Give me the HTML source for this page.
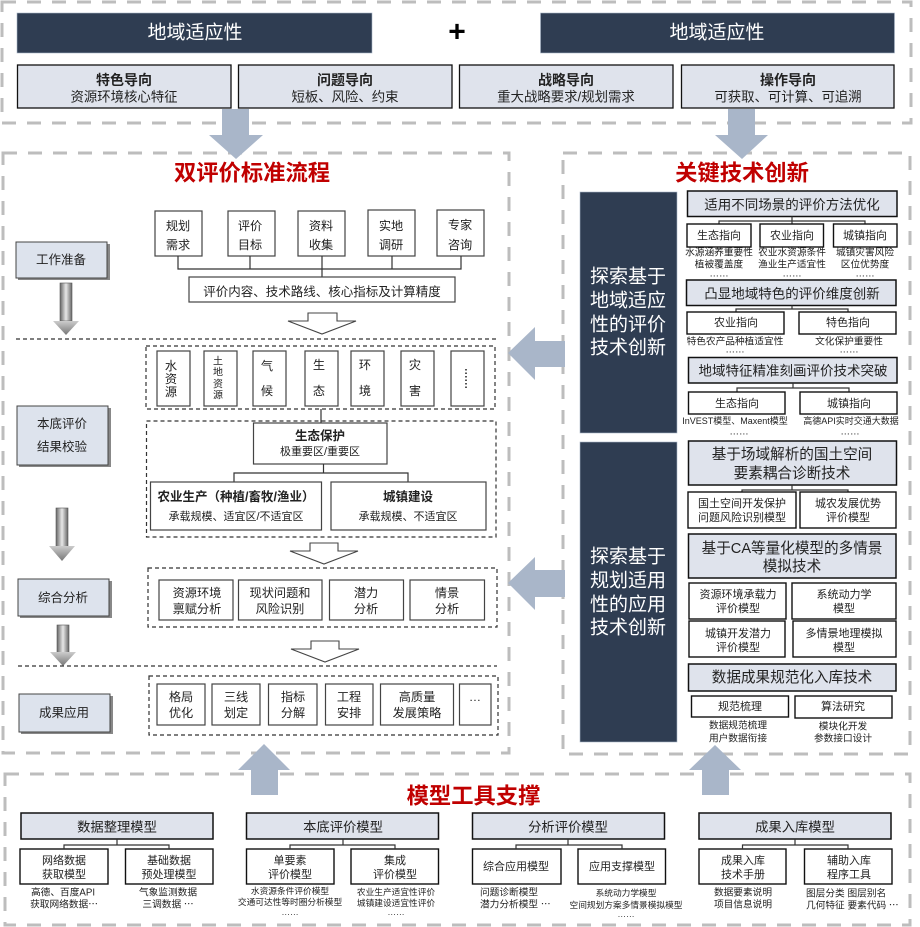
<!DOCTYPE html>
<html lang="zh"><head><meta charset="utf-8"><title>双评价</title>
<style>
html,body{margin:0;padding:0;background:#fff}
svg{display:block}
text{font-family:"Liberation Sans","Noto Sans CJK SC",sans-serif;text-anchor:middle;dominant-baseline:central;fill:#222}
.d{fill:none;stroke:#bdbdbd;stroke-width:3;stroke-dasharray:14 11}
.k{fill:none;stroke:#333;stroke-width:1.2;stroke-dasharray:4 3}
.b{fill:#fff;stroke:#111;stroke-width:1.4}
.g{fill:#fff;stroke:#444;stroke-width:1.2}
.h{fill:#dfe3ec;stroke:#111;stroke-width:1.5}
.e{fill:#dfe3ec;stroke:#111;stroke-width:1.3}
.s{fill:#dde3ed;stroke:#444;stroke-width:1}
.dk{fill:#2f3d52;stroke:#a9b6c9;stroke-width:.6}
.l{fill:none;stroke:#333;stroke-width:1.2}
.a{fill:#a9b6c9}
.o{fill:#fff;stroke:#444;stroke-width:1.1}
.t{font-size:22.300px;font-weight:700;fill:#c00000}
.m{font-size:13.400px}.n{font-size:12.200px}.p{font-size:11px}.q{font-size:9.700px}.r{font-size:8.700px}
.hh{font-size:14.600px}.bh{font-size:13.300px}.dh{font-size:13.500px}
.bd{font-size:14px;font-weight:700}
.lft{text-anchor:start}
.wh{fill:#fff}
</style></head><body>
<svg width="920" height="927" viewBox="0 0 920 927" xmlns="http://www.w3.org/2000/svg">
<defs><linearGradient id="gr" x1="0" y1="0" x2="1" y2="0"><stop offset="0" stop-color="#666"/><stop offset=".5" stop-color="#e8e8e8"/><stop offset="1" stop-color="#666"/></linearGradient>
<linearGradient id="gv" x1="0" y1="0" x2="0" y2="1"><stop offset="0" stop-color="#ccc"/><stop offset="1" stop-color="#777"/></linearGradient></defs>

<!-- dashed panels -->
<rect class="d" x="2" y="2" width="909" height="121"/>
<rect class="d" x="3" y="153" width="506" height="600"/>
<rect class="d" x="563" y="153" width="347" height="601"/>
<rect class="d" x="5" y="774" width="905" height="151"/>

<!-- top -->
<rect class="dk" x="17" y="13" width="355" height="40"/>
<rect class="dk" x="540.500" y="13" width="354" height="40"/>
<text class="wh" x="195" y="33" font-size="19">地域适应性</text>
<text class="wh" x="717" y="33" font-size="19">地域适应性</text>
<text x="457" y="32" font-size="30" font-weight="700" style="fill:#000">+</text>
<rect class="e" x="17.500" y="65" width="213.500" height="43"/>
<rect class="e" x="238.500" y="65" width="213.500" height="43"/>
<rect class="e" x="459.500" y="65" width="213.500" height="43"/>
<rect class="e" x="681.500" y="65" width="212.500" height="43"/>
<text x="124" y="80" class="bd">特色导向</text><text x="124" y="97" class="m">资源环境核心特征</text>
<text x="345" y="80" class="bd">问题导向</text><text x="345" y="97" class="m">短板、风险、约束</text>
<text x="566" y="80" class="bd">战略导向</text><text x="566" y="97" class="m">重大战略要求/规划需求</text>
<text x="788" y="80" class="bd">操作导向</text><text x="788" y="97" class="m">可获取、可计算、可追溯</text>

<!-- blue arrows -->
<polygon class="a" points="222,109 249,109 249,135 263,135 236,159 209,135 222,135"/>
<polygon class="a" points="728,109 755,109 755,135 768,135 742,159 715,135 728,135"/>
<polygon class="a" points="508,353 535,327 535,341 565,341 565,367 535,367 535,380"/>
<polygon class="a" points="508,583 535,557 535,570 565,570 565,597 535,597 535,610"/>
<polygon class="a" points="264,744 290,770 278,770 278,795 251,795 251,770 238,770"/>
<polygon class="a" points="715,745 741,770 729,770 729,795 702,795 702,770 689,770"/>

<!-- left panel -->
<text class="t" x="252" y="173">双评价标准流程</text>
<rect class="g" x="155" y="211" width="47" height="45"/>
<rect class="g" x="228" y="211" width="47" height="45"/>
<rect class="g" x="298" y="211" width="47" height="45"/>
<rect class="g" x="368" y="210" width="47" height="46"/>
<rect class="g" x="437" y="210" width="47" height="46"/>
<text class="n" x="178" y="226">规划</text><text class="n" x="178" y="245">需求</text>
<text class="n" x="250" y="226">评价</text><text class="n" x="250" y="245">目标</text>
<text class="n" x="321" y="226">资料</text><text class="n" x="321" y="245">收集</text>
<text class="n" x="391" y="226">实地</text><text class="n" x="391" y="245">调研</text>
<text class="n" x="460" y="225">专家</text><text class="n" x="460" y="245">咨询</text>
<path class="l" d="M178 256V269H461V256M250 256V269M322 256V277M392 256V269"/>
<rect class="g" x="189" y="277" width="266" height="25"/>
<text x="322" y="292" font-size="12.500">评价内容、技术路线、核心指标及计算精度</text>
<polygon class="o" points="308,313 337,313 337,321 356,321 322,334 288,321 308,321"/>

<rect x="18" y="244" width="92" height="36" fill="#888"/><rect class="s" x="16" y="242" width="91" height="36"/>
<text x="61" y="260" font-size="12.500">工作准备</text>
<rect x="19" y="408" width="92" height="59" fill="#888"/><rect class="s" x="17" y="406" width="91" height="59"/>
<text x="62" y="424" font-size="12.500">本底评价</text><text x="62" y="447" font-size="12.500">结果校验</text>
<rect x="20" y="581" width="92" height="37" fill="#888"/><rect class="s" x="18" y="579" width="91" height="37"/>
<text x="63" y="598" font-size="12.500">综合分析</text>
<rect x="21" y="696" width="92" height="38" fill="#888"/><rect class="s" x="19" y="694" width="91" height="38"/>
<text x="64" y="713" font-size="12.500">成果应用</text>

<rect x="60" y="283" width="12" height="38" fill="url(#gr)" stroke="#555" stroke-width=".6"/><polygon points="53,321 79,321 66,335" fill="url(#gv)"/>
<rect x="56" y="508" width="12" height="42" fill="url(#gr)" stroke="#555" stroke-width=".6"/><polygon points="49,546 75,546 62,561" fill="url(#gv)"/>
<rect x="57" y="625" width="12" height="33" fill="url(#gr)" stroke="#555" stroke-width=".6"/><polygon points="50,652 76,652 63,666" fill="url(#gv)"/>

<path class="k" d="M16 339H496"/>
<path class="k" d="M18 666H497"/>

<rect class="k" x="146" y="346" width="349" height="63"/>
<rect class="g" x="157" y="351" width="33" height="55"/>
<rect class="g" x="204" y="351" width="33" height="55"/>
<rect class="g" x="253" y="351" width="33" height="55"/>
<rect class="g" x="305" y="351" width="33" height="55"/>
<rect class="g" x="351" y="351" width="33" height="55"/>
<rect class="g" x="401" y="351" width="33" height="55"/>
<rect class="g" x="451" y="351" width="33" height="55"/>
<text class="n" x="171" y="366">水</text><text class="n" x="171" y="379">资</text><text class="n" x="171" y="392">源</text>
<text x="218" y="362" font-size="10">土</text><text x="218" y="373" font-size="10">地</text><text x="218" y="385" font-size="10">资</text><text x="218" y="396" font-size="10">源</text>
<text class="n" x="267" y="366">气</text><text class="n" x="267" y="391">候</text>
<text class="n" x="319" y="365">生</text><text class="n" x="319" y="391">态</text>
<text class="n" x="365" y="365">环</text><text class="n" x="365" y="391">境</text>
<text class="n" x="415" y="365">灾</text><text class="n" x="415" y="391">害</text>
<path d="M466 369V388" stroke="#555" stroke-width="2" stroke-dasharray="1.5 2" fill="none"/>
<path class="l" d="M321 409V423"/>
<rect class="k" x="146.500" y="421" width="349.500" height="116"/>
<rect class="g" x="253.500" y="423" width="133.500" height="41"/>
<text x="320" y="436" font-size="12.500" font-weight="700">生态保护</text><text class="p" x="320" y="452">极重要区/重要区</text>
<path class="l" d="M323.500 464V473M234 482V473H408V482"/>
<rect class="g" x="150.500" y="482" width="171" height="48"/>
<rect class="g" x="331" y="482" width="155" height="48"/>
<text x="236" y="497" font-size="12.500" font-weight="700">农业生产（种植/畜牧/渔业）</text>
<text class="p" x="236" y="517">承载规模、适宜区/不适宜区</text>
<text x="408" y="497" font-size="12.500" font-weight="700">城镇建设</text>
<text class="p" x="408" y="517">承载规模、不适宜区</text>
<polygon class="o" points="310,543 338,543 338,551 358,551 324,564 290,551 310,551"/>
<rect class="k" x="148" y="568" width="349" height="59"/>
<rect class="g" x="159" y="580" width="74" height="40"/>
<rect class="g" x="238.500" y="580" width="83.500" height="40"/>
<rect class="g" x="329.500" y="580" width="74" height="40"/>
<rect class="g" x="410" y="580" width="74.500" height="40"/>
<text class="n" x="197" y="593">资源环境</text><text class="n" x="197" y="609">禀赋分析</text>
<text class="n" x="280" y="593">现状问题和</text><text class="n" x="280" y="609">风险识别</text>
<text class="n" x="366" y="593">潜力</text><text class="n" x="366" y="609">分析</text>
<text class="n" x="447" y="593">情景</text><text class="n" x="447" y="609">分析</text>
<polygon class="o" points="311,641 339,641 339,649 359,649 325,662 291,649 311,649"/>
<rect class="k" x="149" y="676" width="349" height="59"/>
<rect class="g" x="157" y="684" width="48" height="41"/>
<rect class="g" x="212" y="684" width="48" height="41"/>
<rect class="g" x="268.500" y="684" width="48.500" height="41"/>
<rect class="g" x="325.500" y="684" width="47.500" height="41"/>
<rect class="g" x="380.500" y="684" width="73" height="41"/>
<rect class="g" x="459.500" y="684" width="31.500" height="41"/>
<text class="n" x="181" y="697">格局</text><text class="n" x="181" y="713">优化</text>
<text class="n" x="236" y="697">三线</text><text class="n" x="236" y="713">划定</text>
<text class="n" x="293" y="697">指标</text><text class="n" x="293" y="713">分解</text>
<text class="n" x="349" y="697">工程</text><text class="n" x="349" y="713">安排</text>
<text class="n" x="417" y="697">高质量</text><text class="n" x="417" y="713">发展策略</text>
<text class="n" x="475" y="697">…</text>

<!-- right panel -->
<text class="t" x="742" y="173">关键技术创新</text>
<rect class="dk" x="580" y="192" width="97" height="241"/>
<rect class="dk" x="580" y="442" width="97" height="300"/>
<text class="wh" font-size="19" x="628" y="277">探索基于</text><text class="wh" font-size="19" x="628" y="301">地域适应</text><text class="wh" font-size="19" x="628" y="325">性的评价</text><text class="wh" font-size="19" x="628" y="348">技术创新</text>
<text class="wh" font-size="19" x="628" y="557">探索基于</text><text class="wh" font-size="19" x="628" y="581">规划适用</text><text class="wh" font-size="19" x="628" y="605">性的应用</text><text class="wh" font-size="19" x="628" y="628">技术创新</text>

<rect class="h" x="687.500" y="191" width="209.500" height="25.500"/>
<text class="dh" x="792" y="205">适用不同场景的评价方法优化</text>
<path class="l" d="M792 216.500V224M719 224V221H865V224"/>
<rect class="b" x="687" y="224" width="64" height="23"/><rect class="b" x="760" y="224" width="63.500" height="23"/><rect class="b" x="833.500" y="224" width="63.500" height="23"/>
<text class="p" x="719" y="236">生态指向</text><text class="p" x="792" y="236">农业指向</text><text class="p" x="865" y="236">城镇指向</text>
<text class="q" x="719" y="253">水源涵养重要性</text><text class="q" x="719" y="265">植被覆盖度</text><text class="q" x="719" y="274">……</text>
<text class="q" x="792" y="253">农业水资源条件</text><text class="q" x="792" y="265">渔业生产适宜性</text><text class="q" x="792" y="274">……</text>
<text class="q" x="865" y="253">城镇灾害风险</text><text class="q" x="865" y="265">区位优势度</text><text class="q" x="865" y="274">……</text>

<rect class="h" x="686.500" y="280" width="209.500" height="25.500"/>
<text class="dh" x="792" y="294">凸显地域特色的评价维度创新</text>
<path class="l" d="M792 305.500V309M736 312V309H848V312"/>
<rect class="b" x="687" y="312" width="97" height="22"/><rect class="b" x="799" y="312" width="97" height="22"/>
<text class="p" x="736" y="323">农业指向</text><text class="p" x="848" y="323">特色指向</text>
<text class="q" x="735" y="342">特色农产品种植适宜性</text><text class="q" x="849" y="342">文化保护重要性</text>
<text class="q" x="735" y="350">……</text><text class="q" x="849" y="350">……</text>

<rect class="h" x="688.500" y="357.500" width="208.500" height="25.500"/>
<text class="dh" x="793" y="371">地域特征精准刻画评价技术突破</text>
<path class="l" d="M793 383V388M737 392V388H849V392"/>
<rect class="b" x="688.500" y="392" width="96.500" height="22"/><rect class="b" x="800" y="392" width="97" height="22"/>
<text class="p" x="737" y="404">生态指向</text><text class="p" x="849" y="404">城镇指向</text>
<text x="735" y="421" font-size="9">InVEST模型、Maxent模型</text><text x="851" y="421" font-size="9">高德API实时交通大数据</text>
<text class="q" x="739" y="432">……</text><text class="q" x="850" y="432">……</text>

<rect class="h" x="688.500" y="441" width="208" height="44"/>
<text class="hh" x="792" y="455">基于场域解析的国土空间</text><text class="hh" x="792" y="474">要素耦合诊断技术</text>
<path class="l" d="M742 492V490H848V492M792 485V490"/>
<rect class="b" x="688" y="492" width="108" height="36"/><rect class="b" x="800" y="492" width="96" height="36"/>
<text class="p" x="742" y="504">国土空间开发保护</text><text class="p" x="742" y="518">问题风险识别模型</text>
<text class="p" x="848" y="504">城农发展优势</text><text class="p" x="848" y="518">评价模型</text>

<rect class="h" x="688.500" y="534" width="207.500" height="44"/>
<text class="hh" x="792" y="549">基于CA等量化模型的多情景</text><text class="hh" x="792" y="567">模拟技术</text>
<rect class="b" x="689" y="583" width="97" height="36"/><rect class="b" x="792" y="583" width="104" height="36"/>
<rect class="b" x="689" y="621" width="96" height="36"/><rect class="b" x="793" y="621" width="103" height="36"/>
<text class="p" x="738" y="595">资源环境承载力</text><text class="p" x="738" y="609">评价模型</text>
<text class="p" x="844" y="595">系统动力学</text><text class="p" x="844" y="609">模型</text>
<text class="p" x="738" y="634">城镇开发潜力</text><text class="p" x="738" y="648">评价模型</text>
<text class="p" x="844" y="634">多情景地理模拟</text><text class="p" x="844" y="648">模型</text>

<rect class="h" x="688.500" y="664" width="207.500" height="27"/>
<text class="hh" x="792" y="678">数据成果规范化入库技术</text>
<rect class="b" x="691.500" y="696" width="97" height="21"/><rect class="b" x="795" y="696" width="97" height="22"/>
<text class="p" x="740" y="707">规范梳理</text><text class="p" x="843" y="707">算法研究</text>
<text class="q" x="738" y="726">数据规范梳理</text><text class="q" x="738" y="739">用户数据衔接</text>
<text class="q" x="843" y="727">模块化开发</text><text class="q" x="843" y="739">参数接口设计</text>

<!-- bottom -->
<text class="t" x="473.500" y="796">模型工具支撑</text>
<rect class="h" x="21" y="813" width="192" height="26"/><rect class="b" x="20" y="849" width="88" height="35"/><rect class="b" x="125.500" y="849" width="87.500" height="35"/>
<path class="l" d="M117 839V845M64 849V845H169V849"/>
<text class="bh" x="117" y="827">数据整理模型</text>
<text class="p" x="64" y="861">网络数据</text><text class="p" x="64" y="875">获取模型</text>
<text class="p" x="169" y="861">基础数据</text><text class="p" x="169" y="875">预处理模型</text>
<text class="q" x="63" y="893">高德、百度API</text><text class="q" x="64" y="905">获取网络数据⋯</text>
<text class="q" x="168" y="893">气象监测数据</text><text class="q" x="168" y="905">三调数据 ⋯</text>

<rect class="h" x="246.500" y="813" width="192" height="26"/><rect class="b" x="246.500" y="849" width="87.500" height="35"/><rect class="b" x="351" y="849" width="87.500" height="35"/>
<path class="l" d="M343 839V845M290 849V845H395V849"/>
<text class="bh" x="343" y="827">本底评价模型</text>
<text class="p" x="290" y="861">单要素</text><text class="p" x="290" y="875">评价模型</text>
<text class="p" x="395" y="861">集成</text><text class="p" x="395" y="875">评价模型</text>
<text class="r" x="290" y="891">水资源条件评价模型</text><text class="r" x="290" y="902">交通可达性等时圈分析模型</text><text class="r" x="290" y="912">……</text>
<text class="r" x="396" y="892">农业生产适宜性评价</text><text class="r" x="396" y="903">城镇建设适宜性评价</text><text class="r" x="396" y="912">……</text>

<rect class="h" x="472.500" y="813" width="192" height="26"/><rect class="b" x="472.500" y="849" width="88.500" height="35"/><rect class="b" x="578" y="849" width="87.500" height="35"/>
<path class="l" d="M568 839V845M516 849V845H622V849"/>
<text class="bh" x="568" y="827">分析评价模型</text>
<text class="p" x="516" y="867">综合应用模型</text><text class="p" x="622" y="867">应用支撑模型</text>
<text class="q lft" x="480" y="893">问题诊断模型</text><text class="q lft" x="480" y="905">潜力分析模型 ⋯</text>
<text class="r" x="626" y="893">系统动力学模型</text><text class="r" x="626" y="905">空间规划方案多情景模拟模型</text><text class="r" x="626" y="914">……</text>

<rect class="h" x="699" y="813" width="192" height="26"/><rect class="b" x="699" y="849" width="87" height="35"/><rect class="b" x="804.500" y="849" width="87.500" height="35"/>
<path class="l" d="M795 839V845M742.500 849V845H848V849"/>
<text class="bh" x="795" y="827">成果入库模型</text>
<text class="p" x="743" y="861">成果入库</text><text class="p" x="743" y="875">技术手册</text>
<text class="p" x="849" y="861">辅助入库</text><text class="p" x="849" y="875">程序工具</text>
<text class="q" x="743" y="893">数据要素说明</text><text class="q" x="743" y="905">项目信息说明</text>
<text class="q lft" x="806" y="894">图层分类 图层别名</text><text class="q lft" x="806" y="906">几何特征 要素代码 ⋯</text>
</svg>
</body></html>
